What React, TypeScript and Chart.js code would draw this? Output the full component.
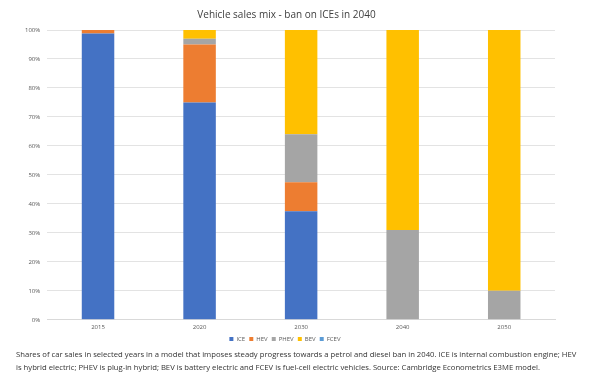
import React, { useEffect, useRef } from "react";
import { Chart, registerables } from "chart.js";

Chart.register(...registerables);

const years = ["2015", "2020", "2030", "2040", "2050"];
const ice = [98.8, 75, 37.5, 0, 0];
const hev = [1.2, 20, 10, 0, 0];
const phev = [0, 2, 16.5, 31, 10];
const bev = [0, 3, 36, 69, 90];
const fcev = [0, 0, 0, 0, 0];
const yTicks = [0, 10, 20, 30, 40, 50, 60, 70, 80, 90, 100];

const FONT = "'Open Sans', 'DejaVu Sans', sans-serif";

export default function App() {
  const ref = useRef<HTMLCanvasElement>(null);
  useEffect(() => {
    document.body.style.margin = "0";
    const mk = (label: string, data: number[], color: string) => ({
      label,
      data,
      backgroundColor: color,
      borderWidth: 0,
      barPercentage: 0.32,
      categoryPercentage: 1,
    });
    const chart = new Chart(ref.current!, {
      type: "bar",
      data: {
        labels: years,
        datasets: [
          mk("ICE", ice, "#4472C4"),
          mk("HEV", hev, "#ED7D31"),
          mk("PHEV", phev, "#A5A5A5"),
          mk("BEV", bev, "#FFC000"),
          mk("FCEV", fcev, "#5B9BD5"),
        ],
      },
      options: {
        animation: false,
        responsive: false,
        maintainAspectRatio: false,
        layout: { padding: { left: 18, right: 45, top: 4, bottom: 0 } },
        plugins: {
          title: {
            display: true,
            text: "Vehicle sales mix - ban on ICEs in 2040",
            color: "#404040",
            font: { family: FONT, size: 10, weight: "normal" },
            padding: { top: 5, bottom: 9 },
          },
          legend: {
            position: "bottom",
            labels: {
              boxWidth: 4,
              boxHeight: 4,
              padding: 1,
              color: "#595959",
              font: { family: FONT, size: 6 },
              generateLabels: (c: any) =>
                Chart.defaults.plugins.legend.labels.generateLabels(c).map((l: any) => ({ ...l, text: l.text + "  " })),
            },
          },
          tooltip: { enabled: false },
        },
        scales: {
          x: {
            stacked: true,
            grid: { display: false, drawTicks: false },
            border: { color: "#d9d9d9" },
            ticks: { color: "#595959", font: { family: FONT, size: 6 }, padding: 4 },
          },
          y: {
            stacked: true,
            min: 0,
            max: 100,
            afterBuildTicks: (axis: any) => {
              axis.ticks = yTicks.map((v) => ({ value: v }));
            },
            grid: { color: "#e3e3e3", drawTicks: false },
            border: { display: false },
            ticks: {
              color: "#595959",
              font: { family: FONT, size: 6 },
              padding: 7,
              callback: (v: any) => v + "%",
            },
          },
        },
      },
    });
    return () => chart.destroy();
  }, []);
  return (
    <div style={{ position: "relative", width: 600, height: 382, background: "#fff" }}>
      <canvas ref={ref} width={600} height={352} style={{ display: "block" }} />
      <div
        style={{
          position: "absolute",
          left: 16,
          top: 348,
          width: 584,
          fontFamily: FONT,
          fontSize: 7.7,
          lineHeight: "13px",
          color: "#333",
          whiteSpace: "nowrap",
        }}
      >
        Shares of car sales in selected years in a model that imposes steady progress towards a petrol and diesel ban in 2040. ICE is internal combustion engine; HEV
        <br />
        is hybrid electric; PHEV is plug-in hybrid; BEV is battery electric and FCEV is fuel-cell electric vehicles. Source: Cambridge Econometrics E3ME model.
      </div>
    </div>
  );
}
